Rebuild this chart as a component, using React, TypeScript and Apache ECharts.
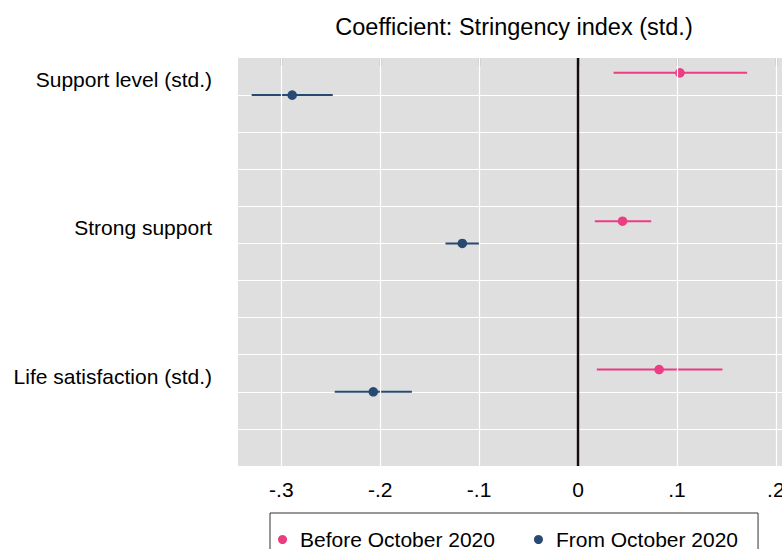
import { useEffect, useRef } from "react";
import * as echarts from "echarts";

const outcomes = ["Support level (std.)", "Strong support", "Life satisfaction (std.)"];
const seriesNames = ["Before October 2020", "From October 2020"];

// point estimates and 95% CI bounds
const beforeEst = [0.103, 0.045, 0.082];
const beforeLo = [0.036, 0.017, 0.019];
const beforeHi = [0.171, 0.074, 0.146];
const fromEst = [-0.289, -0.117, -0.207];
const fromLo = [-0.33, -0.134, -0.246];
const fromHi = [-0.248, -0.1, -0.168];

const xTicks = [-0.3, -0.2, -0.1, 0, 0.1, 0.2];
const xTickLabels = ["-.3", "-.2", "-.1", "0", ".1", ".2"];

const FONT = "'Liberation Sans', Arial, Helvetica, sans-serif";
const PINK = "#EA3D82";
const NAVY = "#284a72";

// layout of the rows on the inverted y scale (0..11)
const rowPos = (i: number): number => 1 + 4 * i;
const BEFORE_SHIFT = -0.6;
const LABEL_SHIFT = -0.42;

const makeRows = (est: number[], lo: number[], hi: number[], shift: number) =>
  est.map((e, i) => [e, lo[i], hi[i], rowPos(i) + shift]);

const renderCI =
  (color: string) =>
  (_params: any, api: any) => {
    const y = api.value(3);
    const lo = api.coord([api.value(1), y]);
    const hi = api.coord([api.value(2), y]);
    const c = api.coord([api.value(0), y]);
    return {
      type: "group",
      children: [
        {
          type: "line",
          shape: { x1: lo[0], y1: lo[1], x2: hi[0], y2: hi[1] },
          style: { stroke: color, lineWidth: 2 },
        },
        {
          type: "circle",
          shape: { cx: c[0], cy: c[1], r: 4.8 },
          style: { fill: color },
        },
      ],
    };
  };

function CoefPlot(): React.ReactElement {
  const ref = useRef<HTMLDivElement | null>(null);

  useEffect(() => {
    const el = ref.current;
    if (el === null) return;
    const chart = echarts.init(el, null, { renderer: "svg" });

    const labelPos = outcomes.map((_, i) => rowPos(i) + LABEL_SHIFT);

    chart.setOption({
      animation: false,
      textStyle: { fontFamily: FONT, color: "#000" },
      title: {
        text: "Coefficient: Stringency index (std.)",
        left: 509,
        top: 10,
        textAlign: "center",
        textStyle: { fontFamily: FONT, fontSize: 23.5, fontWeight: "normal", color: "#000" },
      },
      grid: {
        left: 238,
        top: 58,
        width: 549,
        height: 408,
        outerBoundsMode: "none",
        containLabel: false,
        show: true,
        backgroundColor: "#DFDFDF",
        borderWidth: 0,
      },
      legend: {
        data: seriesNames,
        left: 270,
        top: 513,
        orient: "horizontal",
        icon: "circle",
        itemWidth: 25,
        itemHeight: 9,
        itemGap: 39,
        padding: [16, 20, 16, 8],
        borderColor: "#333",
        borderWidth: 1,
        textStyle: { fontFamily: FONT, fontSize: 21, color: "#000" },
      },
      xAxis: {
        type: "value",
        min: -0.3438,
        max: 0.2113,
        axisLine: { show: false },
        splitLine: { show: false },
        axisTick: {
          customValues: xTicks,
          length: 8,
          lineStyle: { color: "#333", width: 1.2 },
        },
        axisLabel: {
          customValues: xTicks,
          margin: 13,
          fontSize: 21,
          fontFamily: FONT,
          color: "#000",
          formatter: (v: number) => {
            const idx = xTicks.findIndex((t) => Math.abs(t - v) < 1e-6);
            return idx >= 0 ? xTickLabels[idx] : "";
          },
        },
      },
      yAxis: {
        type: "value",
        inverse: true,
        min: 0,
        max: 11,
        interval: 1,
        axisLine: { show: false },
        axisTick: { show: false },
        splitLine: {
          show: true,
          showMinLine: false,
          showMaxLine: false,
          lineStyle: { color: "#FFFFFF", width: 1.2 },
        },
        axisLabel: {
          customValues: labelPos,
          margin: 26,
          fontSize: 21,
          fontFamily: FONT,
          color: "#000",
          formatter: (v: number) => {
            const idx = labelPos.findIndex((p) => Math.abs(p - v) < 1e-6);
            return idx >= 0 ? outcomes[idx] : "";
          },
        },
      },
      series: [
        {
          name: "gridlines",
          type: "line",
          data: [],
          z: 1,
          markLine: {
            silent: true,
            symbol: ["none", "none"],
            label: { show: false },
            lineStyle: { color: "#FFFFFF", width: 1.2, type: "solid" },
            data: [
              ...xTicks.filter((t) => t !== 0).map((t) => ({ xAxis: t })),
              { xAxis: 0, lineStyle: { color: "#140c0c", width: 2.4, type: "solid" } },
            ],
          },
        },
        {
          name: seriesNames[0],
          type: "custom",
          z: 3,
          itemStyle: { color: PINK },
          encode: { x: [0, 1, 2], y: 3 },
          data: makeRows(beforeEst, beforeLo, beforeHi, BEFORE_SHIFT),
          renderItem: renderCI(PINK),
        },
        {
          name: seriesNames[1],
          type: "custom",
          z: 3,
          itemStyle: { color: NAVY },
          encode: { x: [0, 1, 2], y: 3 },
          data: makeRows(fromEst, fromLo, fromHi, 0),
          renderItem: renderCI(NAVY),
        },
      ],
    });

    return () => {
      chart.dispose();
    };
  }, []);

  return (
    <div
      ref={ref}
      style={{ position: "fixed", left: 0, top: 0, width: 782, height: 549, background: "#fff" }}
    />
  );
}

export default function App(): React.ReactElement {
  return <CoefPlot />;
}
